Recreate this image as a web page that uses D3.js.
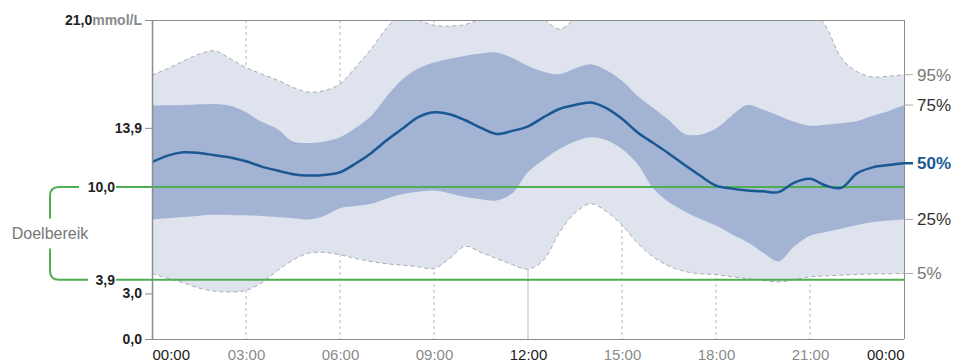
<!DOCTYPE html>
<html>
<head>
<meta charset="utf-8">
<script src="https://cdn.jsdelivr.net/npm/d3@7"></script>
<style>
body { margin: 0; background: #fff; }
svg { font-family: "Liberation Sans", Arial, sans-serif; display: block; }
</style>
</head>
<body>
<svg width="955" height="363"></svg>
<script>
// hours of the day (half hour steps)
var hours = [0, 0.5, 1, 1.5, 2, 2.5, 3, 3.5, 4, 4.5, 5, 5.5, 6, 6.5, 7, 7.5, 8, 8.5, 9, 9.5,
    10, 10.5, 11, 11.5, 12, 12.5, 13, 13.5, 14, 14.5, 15, 15.5, 16, 16.5, 17, 17.5, 18, 18.5,
    19, 19.5, 20, 20.5, 21, 21.5, 22, 22.5, 23, 23.5, 24];

// percentiles in mmol/L
var p5 = [4.31, 4.0, 3.7, 3.35, 3.15, 3.1, 3.2, 3.7, 4.5, 5.2, 5.65, 5.7, 5.55, 5.3, 5.1, 4.95,
    4.86, 4.75, 4.64, 5.3, 6.1, 5.7, 5.3, 4.9, 4.6, 5.2, 7.0, 8.3, 8.9, 8.4, 7.5, 6.3, 5.4, 4.8,
    4.45, 4.3, 4.24, 4.1, 3.98, 3.85, 3.76, 3.9, 4.09, 4.15, 4.2, 4.25, 4.28, 4.3, 4.31];
var p25 = [7.87, 7.95, 8.03, 8.12, 8.18, 8.17, 8.14, 8.1, 8.03, 7.95, 7.87, 8.1, 8.6, 8.75, 8.9,
    9.25, 9.55, 9.7, 9.78, 9.6, 9.34, 9.2, 9.12, 9.6, 11.0, 11.8, 12.5, 13.0, 13.28, 13.1, 12.5,
    11.5, 9.9, 9.0, 8.4, 7.9, 7.48, 6.9, 6.39, 5.7, 5.12, 6.1, 6.8, 7.05, 7.26, 7.5, 7.7, 7.8, 7.87];
var p50 = [11.64, 12.07, 12.29, 12.25, 12.1, 11.95, 11.7, 11.35, 11.09, 10.85, 10.76, 10.8, 10.98,
    11.55, 12.25, 13.1, 13.85, 14.6, 14.92, 14.8, 14.4, 13.9, 13.5, 13.7, 14.0, 14.6, 15.14, 15.4,
    15.57, 15.2, 14.5, 13.6, 12.9, 12.2, 11.45, 10.75, 10.1, 9.9, 9.78, 9.72, 9.67, 10.3, 10.55,
    10.1, 9.95, 10.9, 11.3, 11.45, 11.57];
var p75 = [15.36, 15.38, 15.4, 15.45, 15.47, 15.35, 14.92, 14.3, 13.83, 13.0, 12.9, 13.0, 13.28,
    13.9, 14.7, 16.0, 17.1, 17.8, 18.2, 18.45, 18.65, 18.8, 18.86, 18.5, 17.98, 17.6, 17.43, 17.8,
    18.09, 17.7, 17.0, 16.0, 15.2, 14.4, 13.5, 13.45, 13.85, 14.7, 15.4, 15.1, 14.7, 14.3, 14.04,
    14.1, 14.2, 14.35, 14.7, 15.0, 15.4];
var p95 = [17.37, 17.8, 18.3, 18.75, 18.97, 18.45, 17.87, 17.45, 17.05, 16.56, 16.25, 16.35, 16.8,
    17.9, 19.1, 20.5, 21.4, 21.0, 20.65, 20.6, 20.7, 21.1, 21.6, 21.8, 21.5, 21.05, 20.4, 21.1,
    21.8, 22.2, 22.3, 22.3, 22.3, 22.3, 22.3, 22.3, 22.3, 22.3, 22.3, 22.3, 22.3, 22.2, 21.8,
    20.6, 18.5, 17.6, 17.25, 17.3, 17.4];

var timeTicks = [0, 3, 6, 9, 12, 15, 18, 21, 24];
var valueTicks = [0, 3, 13.9];
var targetLow = 3.9, targetHigh = 10, maxValue = 21;
var unitLabel = "mmol/L";
var rangeLabel = "Doelbereik";
var pctLabels = ["95%", "75%", "50%", "25%", "5%"];

var svg = d3.select("svg"),
    width = +svg.attr("width"),
    height = +svg.attr("height");

var x0 = 152, x1 = 904, yTop = 20, yBottom = 339;

var x = d3.scaleLinear().domain([0, 24]).range([x0, x1]);
var y = d3.scaleLinear().domain([0, maxValue]).range([yBottom, yTop]);

var nl = d3.formatLocale({decimal: ",", thousands: ".", grouping: [3], currency: ["", "€"]});
var fmt = nl.format(".1f");

var rows = hours.map(function (h, i) {
    return {h: h, p5: p5[i], p25: p25[i], p50: p50[i], p75: p75[i], p95: p95[i]};
});

svg.append("defs").append("clipPath").attr("id", "plot")
    .append("rect")
    .attr("x", x0).attr("y", yTop)
    .attr("width", x1 - x0).attr("height", yBottom - yTop);

// grid
svg.append("g")
    .selectAll("line")
    .data(timeTicks.slice(1, -1))
    .enter().append("line")
    .attr("x1", function (d) { return x(d); })
    .attr("x2", function (d) { return x(d); })
    .attr("y1", yTop)
    .attr("y2", yBottom)
    .attr("stroke", function (d) { return d == 12 ? "#d2d2d2" : "#b8b8b8"; })
    .attr("stroke-width", function (d) { return d == 12 ? 1.5 : 1; })
    .attr("stroke-dasharray", function (d) { return d == 12 ? null : "3,3"; });

var curve = d3.curveCatmullRom.alpha(0.5);

var bands = svg.append("g").attr("clip-path", "url(#plot)");

bands.append("path")
    .datum(rows)
    .attr("fill", "#dfe3ee")
    .attr("d", d3.area().curve(curve)
        .x(function (d) { return x(d.h); })
        .y0(function (d) { return y(d.p5); })
        .y1(function (d) { return y(d.p95); }));

["p5", "p95"].forEach(function (k) {
    bands.append("path")
        .datum(rows)
        .attr("fill", "none")
        .attr("stroke", "#a8abb3")
        .attr("stroke-width", 1)
        .attr("stroke-dasharray", "4,3")
        .attr("d", d3.line().curve(curve)
            .x(function (d) { return x(d.h); })
            .y(function (d) { return y(d[k]); }));
});

bands.append("path")
    .datum(rows)
    .attr("fill", "#a2b3d3")
    .attr("d", d3.area().curve(curve)
        .x(function (d) { return x(d.h); })
        .y0(function (d) { return y(d.p25); })
        .y1(function (d) { return y(d.p75); }));

// target range
var green = "#4fae53";
[targetHigh, targetLow].forEach(function (v) {
    svg.append("line")
        .attr("x1", 116).attr("x2", x1)
        .attr("y1", y(v)).attr("y2", y(v))
        .attr("stroke", green)
        .attr("stroke-width", 2);
});

var yh = y(targetHigh), yl = y(targetLow), bx = 50, r = 9;
var ymid = (yh + yl) / 2;
svg.append("path")
    .attr("fill", "none")
    .attr("stroke", green)
    .attr("stroke-width", 2)
    .attr("d", "M79," + yh + " H" + (bx + r) + " Q" + bx + "," + yh + " " + bx + "," + (yh + r) +
        " V" + (ymid - 15) +
        " M" + bx + "," + (ymid + 15) + " V" + (yl - r) + " Q" + bx + "," + yl + " " + (bx + r) + "," + yl +
        " H88");

svg.append("text")
    .attr("x", bx)
    .attr("y", ymid)
    .attr("dy", "0.35em")
    .attr("text-anchor", "middle")
    .attr("fill", "#777")
    .style("font-size", "16px")
    .text(rangeLabel);

[targetHigh, targetLow].forEach(function (v) {
    svg.append("text")
        .attr("x", 115)
        .attr("y", y(v))
        .attr("dy", "0.35em")
        .attr("text-anchor", "end")
        .attr("fill", "#222")
        .style("font-size", "14px")
        .style("font-weight", "bold")
        .text(fmt(v));
});

// median
svg.append("path")
    .datum(rows)
    .attr("clip-path", "url(#plot)")
    .attr("fill", "none")
    .attr("stroke", "#1a5893")
    .attr("stroke-width", 2.5)
    .attr("d", d3.line().curve(curve)
        .x(function (d) { return x(d.h); })
        .y(function (d) { return y(d.p50); }));

// frame
var frame = svg.append("g").attr("stroke", "#8c8c8c").attr("stroke-width", 1);
frame.append("line").attr("x1", 145).attr("x2", x1).attr("y1", yTop + 0.5).attr("y2", yTop + 0.5);
frame.append("line").attr("x1", x1 + 0.5).attr("x2", x1 + 0.5).attr("y1", yTop).attr("y2", yBottom);
frame.append("line").attr("x1", x0).attr("x2", x1).attr("y1", yBottom + 0.5).attr("y2", yBottom + 0.5);

// left axis
var yAxis = svg.append("g")
    .attr("transform", "translate(" + x0 + ",0)")
    .call(d3.axisLeft(y).tickValues(valueTicks).tickFormat(fmt).tickSize(7).tickSizeOuter(0).tickPadding(3));
yAxis.select(".domain").attr("stroke", "#8c8c8c").attr("stroke-width", 1.5);
yAxis.selectAll(".tick line").attr("stroke", "#8c8c8c");
yAxis.selectAll(".tick text")
    .attr("fill", "#222")
    .style("font-size", "14px")
    .style("font-weight", "bold")
    .style("font-family", "'Liberation Sans', Arial, sans-serif");

var topLabel = svg.append("text")
    .attr("x", 142)
    .attr("y", yTop)
    .attr("dy", "0.35em")
    .attr("text-anchor", "end")
    .style("font-size", "14px")
    .style("font-weight", "bold");
topLabel.append("tspan").attr("fill", "#222").text(fmt(maxValue));
topLabel.append("tspan").attr("fill", "#8a8a8a").text(unitLabel);
svg.append("line")
    .attr("x1", 145).attr("x2", x0)
    .attr("y1", yTop + 0.5).attr("y2", yTop + 0.5)
    .attr("stroke", "#8c8c8c");

// bottom axis
var xAxis = svg.append("g")
    .attr("transform", "translate(0," + yBottom + ")")
    .call(d3.axisBottom(x).tickValues(timeTicks).tickSize(0).tickPadding(10)
        .tickFormat(function (d) { return d3.format("02")(d % 24) + ":00"; }));
xAxis.select(".domain").remove();
xAxis.selectAll(".tick text")
    .style("font-size", "15px")
    .style("font-family", "'Liberation Sans', Arial, sans-serif")
    .attr("fill", function (d) { return d % 12 == 0 ? "#222" : "#8a8a8a"; })
    .attr("text-anchor", function (d) { return d == 0 ? "start" : d == 24 ? "end" : "middle"; });

// percentile labels on the right
var last = rows[rows.length - 1];
var ends = [last.p95, last.p75, last.p50, last.p25, last.p5];
var labelColors = ["#777", "#333", "#1a5893", "#333", "#777"];

svg.append("g")
    .selectAll("line")
    .data(ends)
    .enter().append("line")
    .attr("x1", x1).attr("x2", x1 + 9)
    .attr("y1", function (d) { return y(d); })
    .attr("y2", function (d) { return y(d); })
    .attr("stroke", function (d, i) { return i == 2 ? "#1a5893" : "#aaa"; })
    .attr("stroke-width", function (d, i) { return i == 2 ? 2.5 : 1; });

svg.append("g")
    .selectAll("text")
    .data(ends)
    .enter().append("text")
    .attr("x", x1 + 13)
    .attr("y", function (d) { return y(d); })
    .attr("dy", "0.35em")
    .attr("fill", function (d, i) { return labelColors[i]; })
    .style("font-size", "17px")
    .style("font-weight", function (d, i) { return i == 2 ? "bold" : null; })
    .text(function (d, i) { return pctLabels[i]; });
</script>
</body>
</html>
